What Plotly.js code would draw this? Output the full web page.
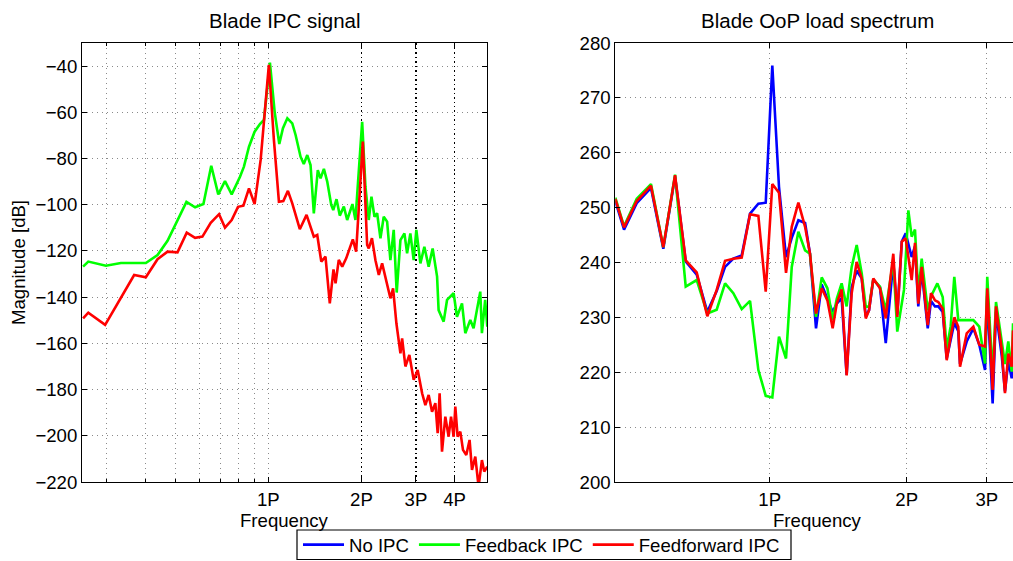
<!DOCTYPE html>
<html>
<head>
<meta charset="utf-8">
<script src="https://cdn.plot.ly/plotly-3.0.1.min.js"></script>
<style>
html,body{margin:0;padding:0;background:#fff;overflow:hidden;width:1013px;height:561px}
#chart{width:1020px;height:566px}
</style>
</head>
<body>
<div id="chart"></div>
<script>
// ---- Left panel: Blade IPC signal (frequency in multiples of rotor speed P, magnitude in dB)
const ipcFbFreq = [0.252,0.262,0.2986,0.334,0.402,0.4385,0.4724,0.5087,0.5438,0.58,0.617,0.654,0.689,0.7244,0.7614,0.81,0.834,0.866,0.903,0.9395,0.968,1.012,1.048,1.085,1.115,1.152,1.195,1.225,1.271,1.302,1.336,1.369,1.403,1.445,1.475,1.512,1.55,1.597,1.621,1.661,1.702,1.754,1.798,1.87,1.912,2.01,2.06,2.111,2.154,2.203,2.247,2.303,2.36,2.42,2.48,2.542,2.599,2.672,2.753,2.808,2.877,2.949,3.008,3.1,3.193,3.297,3.396,3.51,3.55,3.686,3.78,3.97,4.07,4.225,4.33,4.494,4.605,4.84,4.9,5.02,5.1];
const ipcFbMag = [-126.8,-124.6,-126.4,-125.2,-125.2,-121.8,-115.6,-106.6,-98.8,-101.1,-99.7,-83.1,-95.5,-89.8,-95.5,-87.9,-83.5,-74.9,-68.4,-65.1,-63.3,-38.5,-59.7,-73.7,-66.9,-62.6,-64.8,-69.8,-79.2,-82.4,-78.5,-82.8,-103.7,-85,-88.6,-84.5,-90,-100.1,-102.3,-97.6,-104.7,-100.8,-106.6,-99.7,-106.6,-64.1,-92.2,-106.6,-96.5,-105.2,-103.7,-114.5,-105.2,-107.3,-124,-110.9,-138,-115.3,-112.4,-121,-112.4,-124,-110.9,-125.4,-118.2,-126.8,-118.9,-131.1,-145.6,-150.6,-141.2,-138.3,-148.5,-142.7,-155.6,-149.9,-153.5,-137.6,-155.6,-141.2,-152.8];

const ipcFfFreq = [0.252,0.262,0.297,0.3685,0.402,0.4385,0.4724,0.5087,0.545,0.58,0.6124,0.6514,0.693,0.7244,0.7614,0.798,0.8307,0.866,0.903,0.9445,1.004,1.0425,1.082,1.118,1.157,1.195,1.264,1.329,1.403,1.439,1.483,1.53,1.58,1.624,1.649,1.689,1.733,1.785,1.875,1.922,2.02,2.086,2.111,2.162,2.219,2.275,2.332,2.42,2.48,2.53,2.593,2.672,2.706,2.773,2.856,2.949,3.038,3.14,3.217,3.297,3.381,3.465,3.525,3.577,3.641,3.732,3.825,3.894,3.97,4.02,4.089,4.172,4.256,4.362,4.47,4.551,4.664,4.78,4.9,4.985,5.1];
const ipcFfMag = [-149.2,-146.7,-152,-130.4,-131.4,-123.6,-120.3,-120.6,-112.1,-114.3,-113.8,-107.8,-104.1,-109.9,-106.6,-100.9,-100.4,-92.9,-99.7,-80.6,-39.5,-72,-98.7,-98.4,-94,-99.4,-110.6,-104.4,-113.8,-113.1,-124.6,-122.5,-142.7,-128,-134,-123.9,-126.8,-123.2,-115,-120.3,-72.7,-117.4,-118.9,-114.5,-124,-130.4,-125.4,-134,-140.5,-136.2,-151.3,-164.3,-157.8,-170,-165,-175.8,-171.5,-181.6,-186.7,-182.3,-189.6,-185.9,-198.9,-181.6,-206.9,-191.7,-200.4,-191.7,-200.4,-187.4,-200.4,-198.2,-206.1,-208.3,-201.8,-214.8,-209,-222,-210.5,-215.5,-213.4];

// ---- Right panel: Blade OoP load spectrum
const oopFreq = [0.4577,0.4784,0.5101,0.5483,0.5836,0.6193,0.6537,0.6911,0.7292,0.7646,0.7977,0.8318,0.8679,0.9052,0.9441,0.98,1.0132,1.048,1.086,1.118,1.156,1.196,1.226,1.264,1.301,1.339,1.375,1.404,1.439,1.476,1.514,1.553,1.593,1.626,1.653,1.689,1.747,1.799,1.869,1.907,1.951,1.99,2.051,2.086,2.121,2.158,2.225,2.262,2.308,2.347,2.4,2.449,2.499,2.545,2.597,2.62,2.71,2.803,2.888,2.973,3.007,3.09,3.143,3.236,3.289,3.345,3.403,3.426,3.495,3.549];
const oopNoIpc = [251.2,246.0,250.8,253.6,242.5,255.7,240.2,237.8,231.0,234.8,239.2,240.7,241.3,248.9,250.7,250.9,275.9,253.8,241.0,244.5,247.7,247.2,241.6,228.0,236.0,233.5,231.0,232.5,233.5,219.5,235.5,238.5,237.1,230.2,231.3,236.9,235.5,225.3,240.0,230.5,243.8,245.3,241.0,243.0,232.0,238.5,228.0,233.0,232.0,232.0,231.0,222.5,226.0,229.0,227.5,221.5,225.6,228.0,225.0,220.4,234.0,214.3,231.0,223.0,216.5,222.0,218.9,221.5,224.0,227.0];
const oopFf = [251.6,246.4,251.2,254.0,242.8,255.9,240.4,238.2,230.2,235.0,240.3,240.7,240.9,248.8,248.5,234.7,254.3,252.7,238.1,246.5,250.9,246.5,241.6,230.7,235.3,233.1,228.0,232.5,235.1,219.4,234.4,240.1,237.1,229.8,231.3,237.1,235.3,229.8,241.6,230.1,243.8,244.4,236.8,243.6,232.5,239.2,228.6,234.4,233.1,232.8,231.6,222.2,226.5,230.0,228.3,221.0,227.1,228.3,225.0,224.7,235.3,216.8,232.0,224.1,216.2,223.4,221.0,227.6,225.0,228.0];
const oopFbFreq = [0.4577,0.4784,0.5101,0.5483,0.5836,0.6193,0.6537,0.6911,0.7292,0.7646,0.7977,0.8318,0.8679,0.9052,0.9441,0.98,1.0132,1.048,1.086,1.118,1.156,1.196,1.226,1.264,1.301,1.339,1.375,1.404,1.439,1.476,1.514,1.553,1.593,1.626,1.653,1.689,1.747,1.799,1.869,1.907,1.973,2.017,2.051,2.086,2.121,2.158,2.225,2.27,2.336,2.4,2.449,2.499,2.545,2.597,2.664,2.803,2.888,2.973,3.007,3.09,3.143,3.236,3.289,3.345,3.403,3.426,3.495,3.549];
const oopFb = [251.8,246.6,251.6,254.3,242.8,256.0,235.6,236.8,230.7,231.4,236.2,234.4,231.5,233.0,220.4,215.7,215.4,226.5,222.5,239.2,245.6,242.2,241.6,230.1,237.3,235.3,229.5,233.4,236.2,232.0,239.2,243.2,238.0,231.9,232.0,236.9,235.6,231.3,240.4,227.4,235.0,249.5,244.7,246.0,234.4,240.7,231.3,234.1,236.2,233.7,224.3,228.4,237.4,229.5,229.5,229.5,228.3,221.6,237.4,219.2,232.8,225.3,221.5,225.6,220.1,228.9,226,228];

// ---- Tick labels / grid positions
const ipcTickVals = [1,2,3,4];
const ipcTickText = ['1P','2P','3P','4P'];
const ipcMinorGrid = [0.3,0.4,0.5,0.6,0.7,0.8,0.9,1];
const ipcHarmonicGrid = [2,3,4];
const oopTickVals = [1,2,3];
const oopTickText = ['1P','2P','3P'];
const ipcYTicks = [-40,-60,-80,-100,-120,-140,-160,-180,-200,-220];
const oopYTicks = [200,210,220,230,240,250,260,270,280];

const seriesNames = ['No IPC','Feedback IPC','Feedforward IPC'];
const colors = ['#0000ff','#00ff00','#ff0000'];

const W = 1020, H = 566;
const FONT = 'Liberation Sans, Arial, Helvetica, sans-serif';
const LW = 2.6;
const GRIDGREY = '#8a8a8a';
const DOT = '1px,4px';

const traces = [
  {x: oopFreq, y: oopNoIpc, xaxis:'x2', yaxis:'y2', type:'scatter', mode:'lines', name: seriesNames[0], line:{color:colors[0], width:LW}, legendrank:1},
  {x: ipcFbFreq, y: ipcFbMag, xaxis:'x', yaxis:'y', type:'scatter', mode:'lines', name: seriesNames[1], line:{color:colors[1], width:LW}, legendrank:2},
  {x: oopFbFreq, y: oopFb, xaxis:'x2', yaxis:'y2', type:'scatter', mode:'lines', name: seriesNames[1], line:{color:colors[1], width:LW}, showlegend:false},
  {x: ipcFfFreq, y: ipcFfMag, xaxis:'x', yaxis:'y', type:'scatter', mode:'lines', name: seriesNames[2], line:{color:colors[2], width:LW}, legendrank:3},
  {x: oopFreq, y: oopFf, xaxis:'x2', yaxis:'y2', type:'scatter', mode:'lines', name: seriesNames[2], line:{color:colors[2], width:LW}, showlegend:false},
  {x: [], y: [], xaxis:'x3', yaxis:'y', type:'scatter', mode:'lines', showlegend:false, hoverinfo:'skip'}
];

const axisCommon = {
  showline:true, linecolor:'#000', linewidth:1, mirror:'ticks',
  ticks:'inside', ticklen:5, tickcolor:'#000', tickwidth:1,
  zeroline:false, automargin:false,
  tickfont:{family:FONT, size:18.6, color:'#000'},
  gridcolor:GRIDGREY, griddash:DOT, gridwidth:1, showgrid:true
};

const yDom = [(H-482)/H, (H-43)/H];

const layout = {
  width: W, height: H,
  margin:{l:0, r:0, t:0, b:0},
  paper_bgcolor:'#fff', plot_bgcolor:'#fff',
  font:{family:FONT, size:18.6, color:'#000'},
  showlegend:true,
  hovermode:false,
  xaxis: Object.assign({}, axisCommon, {
    domain:[82/W, 487.3/W], type:'log', anchor:'y',
    range:[Math.log10(0.25), Math.log10(5.1)],
    tickmode:'array', tickvals: ipcTickVals, ticktext: ipcTickText,
    ticklabelstandoff: 1, showgrid:false,
    minor:{tickmode:'array', tickvals: ipcMinorGrid, showgrid:true, gridcolor:GRIDGREY, griddash:DOT, gridwidth:1, ticks:'inside', ticklen:3, tickcolor:'#000'}
  }),
  xaxis3: {
    overlaying:'x', type:'log', anchor:'y', domain:[82/W, 487.3/W],
    range:[Math.log10(0.25), Math.log10(5.1)],
    tickmode:'array', tickvals: ipcHarmonicGrid, showticklabels:false, ticks:'',
    showgrid:true, gridcolor:'#000', griddash:'1.5px,3px', gridwidth:1.2,
    zeroline:false, showline:false, automargin:false
  },
  yaxis: Object.assign({}, axisCommon, {
    domain: yDom, anchor:'x',
    range:[-220, -30],
    tickmode:'array', tickvals: ipcYTicks,
    title:{text:'Magnitude [dB]', font:{family:FONT, size:18.6}, standoff:4}
  }),
  xaxis2: Object.assign({}, axisCommon, {
    domain:[615.3/W, 1], type:'log', anchor:'y2',
    range:[Math.log10(0.4577), Math.log10(3.549)],
    tickmode:'array', tickvals: oopTickVals, ticktext: oopTickText,
    ticklabelstandoff: 1
  }),
  yaxis2: Object.assign({}, axisCommon, {
    domain: yDom, anchor:'x2',
    range:[200, 280],
    tickmode:'array', tickvals: oopYTicks
  }),
  legend:{
    orientation:'h', x: 298/W, xanchor:'left', y: (H-545)/H, yanchor:'middle',
    bgcolor:'rgba(0,0,0,0)', borderwidth:0,
    font:{family:FONT, size:18.6, color:'#000'},
    itemwidth:41, traceorder:'normal'
  },
  shapes:[
    {type:'rect', xref:'paper', yref:'paper', x0:297/W, x1:791/W, y0:(H-559.5)/H, y1:(H-530)/H, line:{color:'#000', width:1.2}, fillcolor:'#fff', layer:'below'}
  ],
  annotations:[
    {text:'Blade IPC signal', xref:'paper', yref:'paper', x: 284.7/W, y: (H-20)/H, xanchor:'center', yanchor:'middle', showarrow:false, font:{family:FONT, size:20.5, color:'#000'}},
    {text:'Blade OoP load spectrum', xref:'paper', yref:'paper', x: 817.7/W, y: (H-20)/H, xanchor:'center', yanchor:'middle', showarrow:false, font:{family:FONT, size:20.5, color:'#000'}},
    {text:'Frequency', xref:'paper', yref:'paper', x: 284.7/W, y: (H-520)/H, xanchor:'center', yanchor:'middle', showarrow:false, font:{family:FONT, size:18.6, color:'#000'}},
    {text:'Frequency', xref:'paper', yref:'paper', x: 817.7/W, y: (H-520)/H, xanchor:'center', yanchor:'middle', showarrow:false, font:{family:FONT, size:18.6, color:'#000'}}
  ]
};

Plotly.newPlot('chart', traces, layout, {staticPlot:true, displayModeBar:false});
</script>
</body>
</html>
